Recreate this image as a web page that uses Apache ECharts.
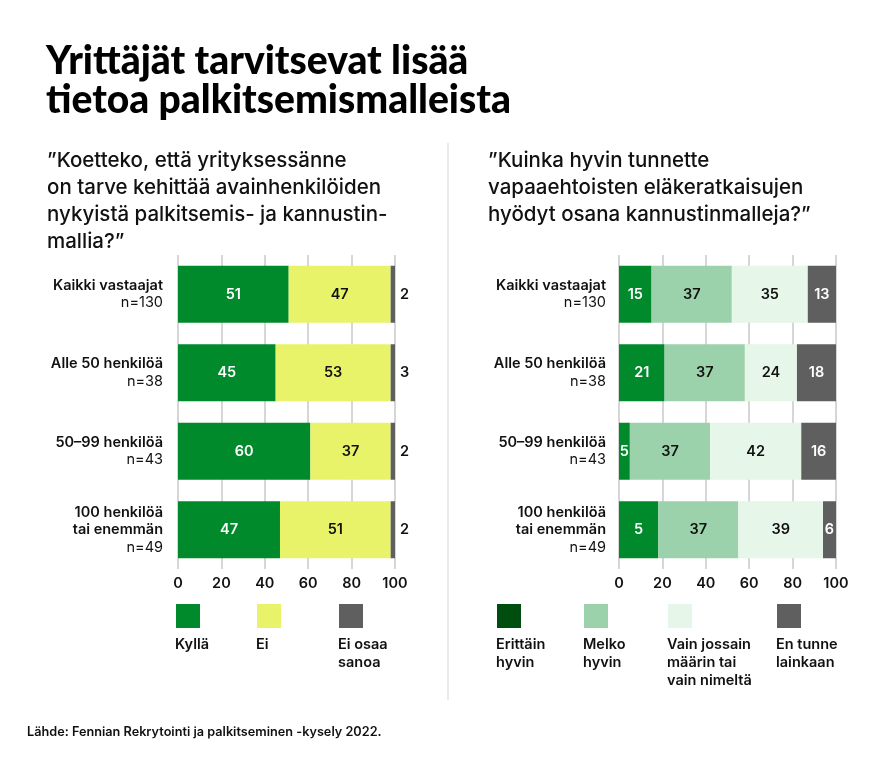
<!DOCTYPE html>
<html><head><meta charset="utf-8">
<script src="https://cdn.jsdelivr.net/npm/echarts@6/dist/echarts.min.js"></script>
<style>html,body{margin:0;padding:0;background:#fff}#c{width:896px;height:757px}</style>
</head><body><div id="c"></div>
<script>
// ---- data ----
const groups = ["Kaikki vastaajat", "Alle 50 henkilöä", "50–99 henkilöä", "100 henkilöä\ntai enemmän"];
const groupN = ["n=130", "n=38", "n=43", "n=49"];
const xTicks = [0, 20, 40, 60, 80, 100];

// Left chart: "Koetteko ... ?"
const leftNames = ["Kyllä", "Ei", "Ei osaa\nsanoa"];
const kylla = [51, 45, 61, 47];
const kyllaLbl = ["51", "45", "60", "47"];
const ei = [47, 53, 37, 51];
const eiLbl = ["47", "53", "37", "51"];
const eiOsaa = [2, 2, 2, 2];
const eiOsaaLbl = ["2", "3", "2", "2"];

// Right chart: "Kuinka hyvin tunnette ... ?"
const rightNames = ["Erittäin\nhyvin", "Melko\nhyvin", "Vain jossain\nmäärin tai\nvain nimeltä", "En tunne\nlainkaan"];
const erittain = [15, 21, 5, 18];
const erittainLbl = ["15", "21", "5", "5"];
const melko = [37, 37, 37, 37];
const melkoLbl = ["37", "37", "37", "37"];
const vain = [35, 24, 42, 39];
const vainLbl = ["35", "24", "42", "39"];
const enTunne = [13, 18, 16, 6];
const enTunneLbl = ["13", "18", "16", "6"];

// ---- styling ----
const FONT = "Inter";
const TFONT = "Lato";
const C_GREEN = "#008a2b", C_YELLOW = "#e8f36a", C_GREY = "#5f5f5f";
const C_DKGREEN = "#004d10", C_MELKO = "#9cd2ab", C_VAIN = "#e6f6e9";

const chart = echarts.init(document.getElementById('c'), null, {renderer: 'canvas'});

function yAxisFor(gi, margin) {
  return {
    type: 'category', gridIndex: gi, data: groups, inverse: true,
    axisLine: {show: false}, axisTick: {show: false},
    axisLabel: {
      margin: margin, align: 'right',
      formatter: (v, i) => v.split('\n').map(s => '{a|' + s + '}').join('\n') + '\n{b|' + groupN[i] + '}',
      rich: {
        a: {fontFamily: FONT, fontSize: 14.5, fontWeight: 600, color: '#111', lineHeight: 17.5, align: 'right'},
        b: {fontFamily: FONT, fontSize: 14.5, fontWeight: 'normal', color: '#111', lineHeight: 17.5, align: 'right'}
      }
    }
  };
}
function xAxisFor(gi) {
  return {
    type: 'value', gridIndex: gi, min: 0, max: 100, interval: 20,
    axisLine: {show: false}, axisTick: {show: false},
    splitLine: {show: true, lineStyle: {color: '#c9c9c9', width: 1.5}},
    axisLabel: {fontFamily: FONT, fontSize: 14.5, fontWeight: 600, color: '#111', margin: 7,
      formatter: v => xTicks.includes(v) ? String(v) : ''}
  };
}
function bar(name, gi, vals, lbls, color, lblColor, pos) {
  return {
    name: name, type: 'bar', stack: 's' + gi, xAxisIndex: gi, yAxisIndex: gi,
    data: vals, barWidth: 57, itemStyle: {color: color},
    label: {show: true, position: pos || 'inside', distance: 5,
      formatter: p => lbls[p.dataIndex],
      fontFamily: FONT, fontSize: 14.5, fontWeight: 600, color: lblColor},
    emphasis: {disabled: true}, animation: false
  };
}

// legend graphics built from names & colours
const graphics = [];
function legendItems(names, colors, xs) {
  names.forEach((n, i) => {
    graphics.push({type: 'rect', left: xs[i], top: 604, shape: {width: 24, height: 24}, style: {fill: colors[i]}});
    graphics.push({type: 'text', left: xs[i] - 1, top: 636, style: {text: n, font: '600 14.5px ' + FONT, fill: '#111', lineHeight: 18}});
  });
}
legendItems(leftNames, [C_GREEN, C_YELLOW, C_GREY], [176, 257, 339]);
legendItems(rightNames, [C_DKGREEN, C_MELKO, C_VAIN, C_GREY], [497, 584, 668, 777]);
graphics.push({type: 'line', shape: {x1: 448, y1: 143, x2: 448, y2: 700}, style: {stroke: '#e3e3e3', lineWidth: 1.5}});

chart.setOption({
  backgroundColor: '#fff',
  animation: false,
  title: [
    {text: 'Yrittäjät tarvitsevat lisää\ntietoa palkitsemismalleista', left: 41, top: 37,
      textStyle: {fontFamily: TFONT, fontSize: 39, fontWeight: 900, color: '#000', lineHeight: 39}},
    {text: '”Koetteko, että yrityksessänne\non tarve kehittää avainhenkilöiden\nnykyistä palkitsemis- ja kannustin-\nmallia?”',
      left: 42, top: 142, textStyle: {fontFamily: FONT, fontSize: 20.5, fontWeight: 500, color: '#111', lineHeight: 27}},
    {text: '”Kuinka hyvin tunnette\nvapaaehtoisten eläkeratkaisujen\nhyödyt osana kannustinmalleja?”',
      left: 483, top: 142, textStyle: {fontFamily: FONT, fontSize: 20.5, fontWeight: 500, color: '#111', lineHeight: 27}},
    {text: 'Lähde: Fennian Rekrytointi ja palkitseminen -kysely 2022.', left: 22, top: 721,
      textStyle: {fontFamily: FONT, fontSize: 12.7, fontWeight: 600, color: '#111'}}
  ],
  grid: [
    {left: 178, top: 255, width: 217, height: 314, containLabel: false},
    {left: 619, top: 255, width: 217, height: 314, containLabel: false}
  ],
  xAxis: [xAxisFor(0), xAxisFor(1)],
  yAxis: [yAxisFor(0, 15), yAxisFor(1, 13)],
  series: [
    bar(leftNames[0], 0, kylla, kyllaLbl, C_GREEN, '#fff'),
    bar(leftNames[1], 0, ei, eiLbl, C_YELLOW, '#111'),
    bar(leftNames[2], 0, eiOsaa, eiOsaaLbl, C_GREY, '#111', 'right'),
    bar(rightNames[0], 1, erittain, erittainLbl, C_GREEN, '#fff'),
    bar(rightNames[1], 1, melko, melkoLbl, C_MELKO, '#111'),
    bar(rightNames[2], 1, vain, vainLbl, C_VAIN, '#111'),
    bar(rightNames[3], 1, enTunne, enTunneLbl, C_GREY, '#fff')
  ],
  graphic: graphics
});
</script></body></html>
